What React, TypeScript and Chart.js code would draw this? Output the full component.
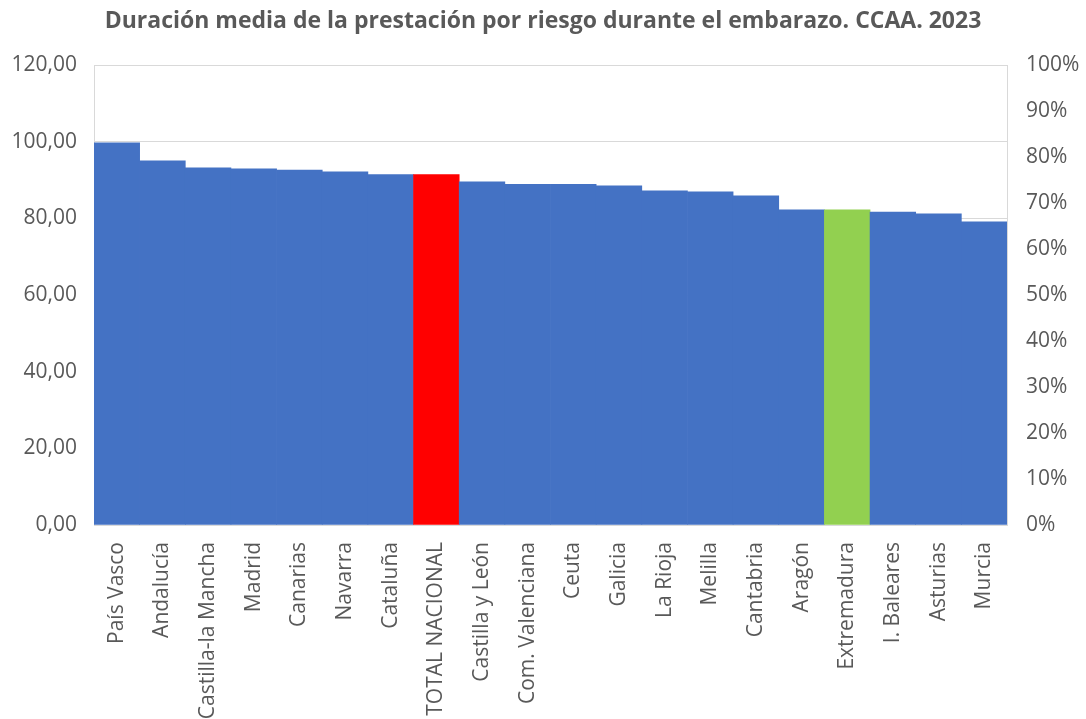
import React, { useEffect, useRef } from "react";
import { Chart, registerables } from "chart.js";

Chart.register(...registerables);

const TITLE = "Duración media de la prestación por riesgo durante el embarazo. CCAA. 2023";

const categories = [
  "País Vasco",
  "Andalucía",
  "Castilla-la Mancha",
  "Madrid",
  "Canarias",
  "Navarra",
  "Cataluña",
  "TOTAL NACIONAL",
  "Castilla y León",
  "Com. Valenciana",
  "Ceuta",
  "Galicia",
  "La Rioja",
  "Melilla",
  "Cantabria",
  "Aragón",
  "Extremadura",
  "I. Baleares",
  "Asturias",
  "Murcia",
];

const durations = [
  99.7, 95.0, 93.2, 92.9, 92.6, 92.1, 91.4, 91.4, 89.5, 88.9,
  88.9, 88.5, 87.2, 86.9, 85.9, 82.2, 82.2, 81.6, 81.2, 79.1,
];

const BLUE = "#4472C4";
const RED = "#FF0000";
const GREEN = "#92D050";
const highlightTotal = "TOTAL NACIONAL";
const highlightRegion = "Extremadura";

const leftTicks = { min: 0, max: 120, step: 20 };
const rightTicks = { min: 0, max: 1, step: 0.1 };

const TEXT = "#595959";
const GRID = "#D9D9D9";
const FONT = "'Open Sans', 'Liberation Sans', sans-serif";

export default function App() {
  const ref = useRef<HTMLCanvasElement | null>(null);

  useEffect(() => {
    document.body.style.margin = "0";
    const canvas = ref.current;
    if (!canvas) return;
    const colors = categories.map((c) =>
      c === highlightTotal ? RED : c === highlightRegion ? GREEN : BLUE
    );
    const chart = new Chart(canvas, {
      type: "bar",
      data: {
        labels: categories,
        datasets: [
          {
            label: "Duración media",
            data: durations,
            backgroundColor: colors,
            borderWidth: 0,
            barPercentage: 1,
            categoryPercentage: 1,
            yAxisID: "y",
          },
        ],
      },
      options: {
        responsive: false,
        animation: false,
        maintainAspectRatio: false,
        layout: { padding: { left: 0, right: 0, top: 0, bottom: 0 } },
        plugins: {
          legend: { display: false },
          tooltip: { enabled: false },
          title: {
            display: true,
            text: TITLE,
            color: TEXT,
            font: { family: FONT, size: 23, weight: "bold", lineHeight: 1.2 },
            padding: { top: 8, bottom: 29.4 },
          },
        },
        scales: {
          x: {
            grid: { display: false, drawTicks: false },
            border: { display: true, color: GRID, width: 1 },
            ticks: {
              color: TEXT,
              font: { family: FONT, size: 21 },
              minRotation: 90,
              maxRotation: 90,
              autoSkip: false,
              padding: 17,
            },
            afterFit: (s: any) => {
              s.height = 194;
            },
          },
          y: {
            position: "left",
            min: leftTicks.min,
            max: leftTicks.max,
            grid: { color: GRID, drawTicks: false, lineWidth: 1 },
            border: { display: true, color: GRID },
            ticks: {
              stepSize: leftTicks.step,
              color: TEXT,
              font: { family: FONT, size: 21 },
              padding: 17,
              callback: (v: any) => Number(v).toFixed(2).replace(".", ","),
            },
            afterFit: (s: any) => {
              s.width = 94;
            },
          },
          y1: {
            position: "right",
            min: rightTicks.min,
            max: rightTicks.max,
            grid: { display: false, drawOnChartArea: false, drawTicks: false },
            border: { display: true, color: GRID },
            ticks: {
              stepSize: rightTicks.step,
              color: TEXT,
              font: { family: FONT, size: 21 },
              padding: 19,
              callback: (v: any) => Math.round(Number(v) * 100) + "%",
            },
            afterFit: (s: any) => {
              s.width = 79;
            },
          },
        },
      },
    });
    return () => chart.destroy();
  }, []);

  return (
    <div style={{ position: "relative", width: 1086, height: 719, background: "#fff" }}>
      <canvas ref={ref} width={1086} height={719} style={{ display: "block" }} />
    </div>
  );
}
